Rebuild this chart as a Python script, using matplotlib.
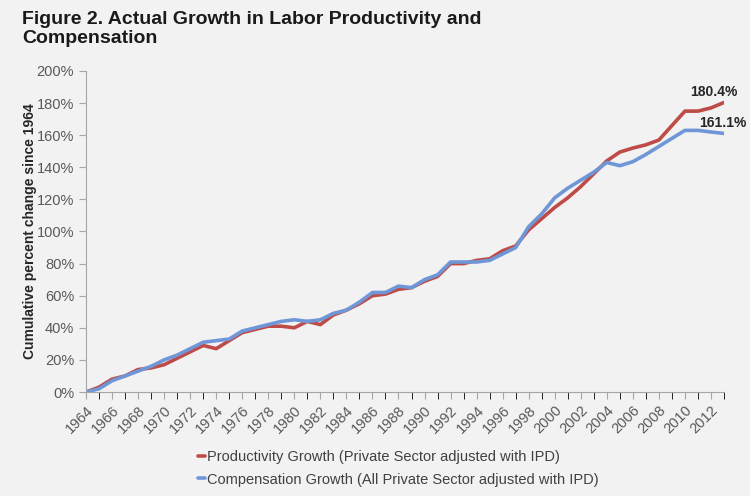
import matplotlib.pyplot as plt
from matplotlib.ticker import FuncFormatter, MultipleLocator

plt.rcParams['font.family'] = ['Liberation Sans', 'DejaVu Sans']

years = list(range(1964, 2014))
productivity = [0, 3, 8, 10, 14, 15, 17, 21, 25, 29,
                27, 32, 37, 39, 41, 41, 40, 44, 42, 48,
                51, 55, 60, 61, 64, 65, 69, 72, 80, 80,
                82, 83, 88, 91, 101, 108, 115, 121, 128, 136,
                144, 149.5, 152, 154, 157, 166, 175, 175, 177, 180.4]
compensation = [0, 2, 7, 10, 13, 16, 20, 23, 27, 31,
                32, 33, 38, 40, 42, 44, 45, 44, 45, 49,
                51, 56, 62, 62, 66, 65, 70, 73, 81, 81,
                81, 82, 86, 90, 103, 111, 121, 127, 132, 137,
                143, 141, 143.5, 148, 153, 158, 163, 163, 162, 161.1]
label_years = list(range(1964, 2013, 2))

bg = '#f2f2f2'
fig = plt.figure(figsize=(7.5, 4.96), dpi=100, facecolor=bg)
ax = fig.add_axes([86/750, 1-392/496, (724-86)/750, (392-71)/496], facecolor=bg)

ax.plot(years, productivity, color='#be4b48', lw=2.6, solid_capstyle='round',
        label='Productivity Growth (Private Sector adjusted with IPD)')
ax.plot(years, compensation, color='#6f97d8', lw=2.6, solid_capstyle='round',
        label='Compensation Growth (All Private Sector adjusted with IPD)')

ax.set_xlim(1964, 2013)
ax.set_ylim(0, 200)
ax.yaxis.set_major_locator(MultipleLocator(20))
ax.yaxis.set_major_formatter(FuncFormatter(lambda v, p: f'{v:.0f}%'))
ax.set_xticks(label_years)
ax.set_xticklabels([str(y) for y in label_years], rotation=45, ha='right',
                   rotation_mode='anchor')
ax.xaxis.set_minor_locator(MultipleLocator(1))

for s in ['top', 'right']:
    ax.spines[s].set_visible(False)
for s in ['left', 'bottom']:
    ax.spines[s].set_color('#a6a6a6')
ax.tick_params(axis='both', colors='#a6a6a6', labelcolor='#595959', labelsize=10.5)
ax.tick_params(axis='x', which='both', length=5, pad=3)
ax.tick_params(axis='y', length=5)

ax.set_ylabel('Cumulative percent change since 1964', fontsize=10,
              fontweight='bold', color='#262626', labelpad=0)

ax.text(2012.2, 187, '180.4%', fontsize=10, fontweight='bold',
        color='#262626', ha='center', va='center')
ax.text(2012.9, 167.6, '161.1%', fontsize=10, fontweight='bold',
        color='#262626', ha='center', va='center')

fig.text(22/750, 1-11/496, 'Figure 2. Actual Growth in Labor Productivity and\nCompensation',
         fontsize=14, fontweight='bold', color='#1a1a1a', ha='left', va='top',
         linespacing=1.15)

fig.legend(loc='upper left', bbox_to_anchor=(192/750, 1-444/496), frameon=False,
           fontsize=10.5, handlelength=0.5, handletextpad=0.1, labelspacing=0.6,
           labelcolor='#404040', borderaxespad=0)

fig.savefig('out.png', dpi=100, facecolor=bg)
